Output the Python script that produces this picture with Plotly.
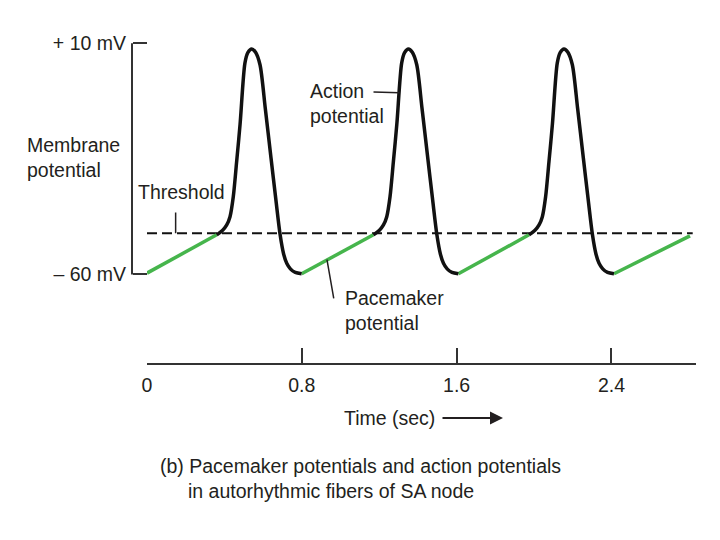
import plotly.graph_objects as go

# ---------------- data ----------------
time_ticks = [0, 0.8, 1.6, 2.4]
time_tick_labels = ["0", "0.8", "1.6", "2.4"]
mv_ticks = [-60, 10]
mv_tick_labels = ["– 60 mV", "+ 10 mV"]

threshold_mv = -47.5
threshold_t = [0.0, 2.82]

# action potentials (black)
ap_mv = [-48.0, -46.6, -45.0, -42.5, -36.4, -26.0, -14.5, 4.0, 7.2, 8.3, 7.3,
         3.5, -9.6, -24.8, -37.4, -48.0, -53.8, -56.6, -58.3, -59.4, -59.8]
ap1_t = [0.360, 0.391, 0.412, 0.429, 0.446, 0.463, 0.481, 0.506, 0.521, 0.541, 0.561,
         0.584, 0.611, 0.641, 0.666, 0.688, 0.706, 0.722, 0.741, 0.766, 0.799]
ap2_t = [1.170, 1.201, 1.222, 1.239, 1.256, 1.273, 1.291, 1.316, 1.331, 1.351, 1.371,
         1.394, 1.421, 1.451, 1.476, 1.498, 1.516, 1.532, 1.551, 1.576, 1.609]
ap3_t = [1.974, 2.005, 2.026, 2.043, 2.060, 2.077, 2.095, 2.120, 2.135, 2.155, 2.175,
         2.198, 2.225, 2.255, 2.280, 2.302, 2.320, 2.336, 2.355, 2.380, 2.413]

# pacemaker potentials (green)
pm1_t = [0.000, 0.360]
pm1_mv = [-59.6, -48.0]
pm2_t = [0.799, 1.170]
pm2_mv = [-59.8, -48.0]
pm3_t = [1.609, 1.974]
pm3_mv = [-59.8, -48.0]
pm4_t = [2.413, 2.806]
pm4_mv = [-59.8, -48.3]

# label pointer targets (data coords)
threshold_ptr = (0.148, -47.5)
action_ptr = (1.304, -5.0)
pacemaker_ptr = (0.930, -55.5)

# ---------------- layout geometry (reference pixels) ----------------
OFF = 8                 # page body margin of the browser
W0, H0 = 720, 540
YAX_PX = 132.0          # x pixel of the membrane-potential bracket
X0_PX, X1_PX = 147.0, 696.0
T_MAX = 2.837
Y10_PX, Y60_PX = 43.5, 274.5
XAX_PX = 364.0          # y pixel of time axis
Y_RANGE = [-62, 11]

PX_PER_MV = (Y60_PX - Y10_PX) / 70.0
top_px = Y10_PX - (Y_RANGE[1] - 10) * PX_PER_MV
ydom_bot_px = Y60_PX + (-60 - Y_RANGE[0]) * PX_PER_MV
W, H = W0 - OFF, H0 - OFF
L, R, T, B = YAX_PX - OFF, W0 - X1_PX, top_px - OFF, H0 - XAX_PX
PW, PH = W - L - R, H - T - B


def px_x(t):
    return X0_PX + t * (X1_PX - X0_PX) / T_MAX


def px_y(v):
    return Y60_PX - (v + 60) * PX_PER_MV


def paper_x(px):
    return (px - YAX_PX) / PW


def paper_y(py):
    return (XAX_PX - py) / PH


FONT = "Liberation Sans, Arial, sans-serif"
TXT = "#231f20"
FS = 19.5
GREEN = "#46b54c"
BLACK = "#111111"
AXC = "#333333"

fig = go.Figure()

fig.add_trace(go.Scatter(x=threshold_t, y=[threshold_mv, threshold_mv], mode="lines",
                         line=dict(color=BLACK, width=2, dash="10px,5px"),
                         hoverinfo="skip", showlegend=False))

for tt, vv in [(pm1_t, pm1_mv), (pm2_t, pm2_mv), (pm3_t, pm3_mv), (pm4_t, pm4_mv)]:
    fig.add_trace(go.Scatter(x=tt, y=vv, mode="lines",
                             line=dict(color=GREEN, width=3.5),
                             hoverinfo="skip", showlegend=False))

for tt in [ap1_t, ap2_t, ap3_t]:
    fig.add_trace(go.Scatter(x=tt, y=ap_mv, mode="lines",
                             line=dict(color=BLACK, width=3.5, shape="spline", smoothing=0.8),
                             hoverinfo="skip", showlegend=False))

# bracket of the membrane potential axis
fig.add_shape(type="line", xref="paper", yref="y", x0=0, x1=0,
              y0=mv_ticks[0], y1=mv_ticks[1], line=dict(color=AXC, width=2))

annotations = []


def text_ann(txt, px, py, xanchor="left", align="left"):
    annotations.append(dict(text=txt, x=paper_x(px), y=paper_y(py), xref="paper", yref="paper",
                            xanchor=xanchor, yanchor="middle", align=align, showarrow=False,
                            font=dict(family=FONT, size=FS, color=TXT)))


def pointer(head, tail_px, arrowhead=0, width=1.5, size=1):
    hx, hy = px_x(head[0]), px_y(head[1])
    annotations.append(dict(text="", x=head[0], y=head[1], xref="x", yref="y",
                            ax=tail_px[0] - hx, ay=tail_px[1] - hy, showarrow=True,
                            arrowhead=arrowhead, arrowwidth=width, arrowsize=size,
                            arrowcolor=TXT, standoff=0))


text_ann("Membrane<br>potential", 25, 157.5)
text_ann("Threshold", 181, 192, xanchor="center")
pointer(threshold_ptr, (px_x(threshold_ptr[0]), 211))
text_ann("Action<br>potential", 308, 104)
pointer(action_ptr, (372, 92))
text_ann("Pacemaker<br>potential", 343, 310.5)
pointer(pacemaker_ptr, (334, 300))
text_ann("Time (sec)", 389.5, 418, xanchor="center")
annotations.append(dict(text="", x=paper_x(503), y=paper_y(418), xref="paper", yref="paper",
                        ax=-62, ay=0, showarrow=True, arrowhead=2, arrowsize=1.3,
                        arrowwidth=2, arrowcolor=TXT, standoff=0))
text_ann("(b) Pacemaker potentials and action potentials", 158, 466)
text_ann("in autorhythmic fibers of SA node", 186, 491)

fig.update_layout(
    width=W, height=H, template="none",
    paper_bgcolor="white", plot_bgcolor="white",
    margin=dict(l=L, r=R, t=T, b=B, pad=0),
    showlegend=False,
    annotations=annotations,
    xaxis=dict(domain=[(X0_PX - YAX_PX) / PW, 1], range=[0, T_MAX], anchor="free", position=0,
               showgrid=False, zeroline=False, showline=True, linecolor=AXC, linewidth=2,
               ticks="inside", ticklen=15, tickwidth=2, tickcolor=AXC,
               tickvals=time_ticks, ticktext=time_tick_labels, ticklabelstandoff=4,
               tickfont=dict(family=FONT, size=FS, color=TXT), automargin=False),
    yaxis=dict(domain=[(XAX_PX - ydom_bot_px) / PH, 1], range=Y_RANGE, anchor="free", position=0,
               showgrid=False, zeroline=False, showline=False,
               ticks="inside", ticklen=14, tickwidth=2, tickcolor=AXC,
               tickvals=mv_ticks, ticktext=mv_tick_labels, ticklabelstandoff=6,
               tickfont=dict(family=FONT, size=FS, color=TXT), automargin=False),
)

fig.write_html("out.html")
